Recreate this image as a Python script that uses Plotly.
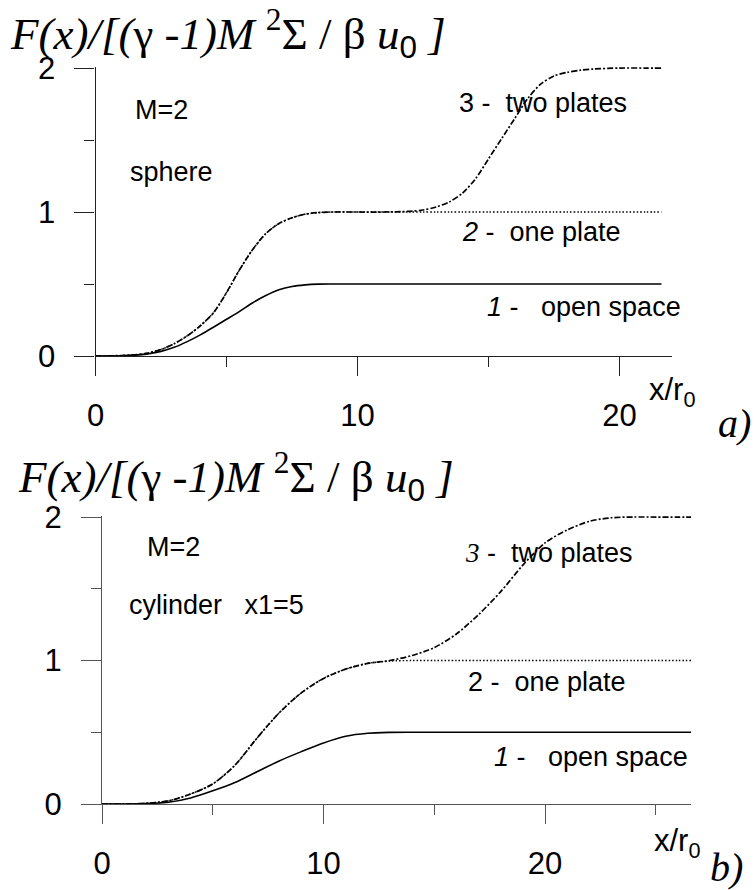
import plotly.graph_objects as go

W, H = 756, 890
SANS = "Liberation Sans, Arial, sans-serif"
SERIF = "Liberation Serif, Times New Roman, serif"

# ---------------- data: sphere (panel a) ----------------
x_sph = [0, 1, 1.5, 2, 2.5, 3, 3.5, 4, 4.5, 5, 5.5, 6, 6.5, 7, 7.5, 8, 8.5, 9, 10, 11,
         12, 12.5, 13, 13.5, 14, 14.5, 15, 15.5, 16, 16.5, 17, 17.5, 18, 18.5, 19, 20, 21, 21.6]
sph_open = [0, 0.002, 0.006, 0.015, 0.032, 0.06, 0.10, 0.147, 0.20, 0.255, 0.31, 0.37, 0.42, 0.46,
            0.483, 0.494, 0.499, 0.5, 0.5, 0.5,
            0.5, 0.5, 0.5, 0.5, 0.5, 0.5, 0.5, 0.5, 0.5, 0.5, 0.5, 0.5, 0.5, 0.5, 0.5, 0.5, 0.5, 0.5]
sph_one = [0, 0.003, 0.008, 0.02, 0.045, 0.085, 0.14, 0.21, 0.30, 0.44, 0.60, 0.74, 0.85, 0.92,
           0.96, 0.985, 0.996, 1.0, 1.0, 1.0,
           1.0, 1.0, 1.0, 1.0, 1.0, 1.0, 1.0, 1.0, 1.0, 1.0, 1.0, 1.0, 1.0, 1.0, 1.0, 1.0, 1.0, 1.0]
sph_two = [0, 0.003, 0.008, 0.02, 0.045, 0.085, 0.14, 0.21, 0.30, 0.44, 0.60, 0.74, 0.85, 0.92,
           0.96, 0.985, 0.996, 1.0, 1.0, 1.0,
           1.005, 1.014, 1.035, 1.07, 1.13, 1.23, 1.37, 1.51, 1.65, 1.79, 1.89, 1.945, 1.97, 1.985,
           1.993, 2.0, 2.0, 2.0]

# ---------------- data: cylinder (panel b) ----------------
x_cyl = [0, 1, 2, 3, 4, 5, 6, 7, 8, 9, 10, 11, 12, 13, 14, 15, 16, 17, 18, 19, 20, 21, 22,
         23, 24, 25, 26, 26.6]
cyl_open = [0, 0.0, 0.003, 0.012, 0.042, 0.092, 0.15, 0.225, 0.30, 0.365, 0.425, 0.472, 0.493,
            0.499, 0.5, 0.5, 0.5, 0.5, 0.5, 0.5, 0.5, 0.5, 0.5, 0.5, 0.5, 0.5, 0.5, 0.5]
cyl_one = [0, 0.0, 0.005, 0.022, 0.07, 0.14, 0.27, 0.46, 0.635, 0.775, 0.875, 0.94, 0.98,
           0.996, 1.0, 1.0, 1.0, 1.0, 1.0, 1.0, 1.0, 1.0, 1.0, 1.0, 1.0, 1.0, 1.0, 1.0]
cyl_two = [0, 0.0, 0.005, 0.022, 0.07, 0.14, 0.27, 0.46, 0.635, 0.775, 0.875, 0.94, 0.98,
           1.0, 1.035, 1.09, 1.185, 1.32, 1.48, 1.665, 1.82, 1.91, 1.97, 1.995, 2.0, 2.0, 2.0, 2.0]

x_tick_vals = [0, 10, 20]
y_tick_vals = [0, 1, 2]

# ---------------- layout helpers (pixel -> paper) ----------------
def px(x):
    return x / W


def py(y):
    return 1 - y / H


# panel boxes in pixels: (left, right, top, bottom)
TOP = dict(left=95.5, right=672.0, top=66.6, bottom=356.0)
BOT = dict(left=102.0, right=691.2, top=515.6, bottom=804.0)

fig = go.Figure()

line_styles = [
    dict(color="black", width=1.6, dash="solid"),
    dict(color="black", width=1.4, dash="1.5px,2px"),
    dict(color="black", width=1.7, dash="6px,2px,2px,2px"),
]

for xs, ys, st in [(x_sph, sph_open, line_styles[0]),
                   (x_sph, sph_one, line_styles[1]),
                   (x_sph, sph_two, line_styles[2])]:
    fig.add_trace(go.Scatter(x=xs, y=ys, mode="lines", line=dict(shape="spline", smoothing=0.8, **st),
                             xaxis="x", yaxis="y", showlegend=False, hoverinfo="skip"))

for xs, ys, st in [(x_cyl, cyl_open, line_styles[0]),
                   (x_cyl, cyl_one, line_styles[1]),
                   (x_cyl, cyl_two, line_styles[2])]:
    fig.add_trace(go.Scatter(x=xs, y=ys, mode="lines", line=dict(shape="spline", smoothing=0.8, **st),
                             xaxis="x2", yaxis="y2", showlegend=False, hoverinfo="skip"))


def xaxis(box, rng, color, anchor):
    return dict(
        domain=[px(box["left"]), px(box["right"])], range=rng, anchor=anchor,
        automargin=False,
        showline=True, linecolor=color, linewidth=1.3, mirror=False,
        showgrid=False, zeroline=False,
        tickmode="array", tickvals=x_tick_vals, ticks="outside", ticklen=19,
        tickwidth=1.3, tickcolor=color,
        minor=dict(dtick=5, tick0=0, ticks="outside", ticklen=10, tickwidth=1.3, tickcolor=color),
        tickfont=dict(family=SANS, size=31, color="black"), ticklabelstandoff=13,
        fixedrange=True,
    )


def yaxis(box, color, anchor):
    return dict(
        domain=[py(box["bottom"]), py(box["top"])], range=[0, 2.01], anchor=anchor,
        automargin=False,
        showline=True, linecolor=color, linewidth=1.3, mirror=False,
        showgrid=False, zeroline=False,
        tickmode="array", tickvals=y_tick_vals, ticks="outside", ticklen=20,
        tickwidth=1.3, tickcolor=color,
        minor=dict(dtick=0.5, tick0=0, ticks="outside", ticklen=10, tickwidth=1.3, tickcolor=color),
        tickfont=dict(family=SANS, size=31, color="black"), ticklabelstandoff=13,
        fixedrange=True,
    )


fig.update_layout(
    width=W, height=H, autosize=False,
    margin=dict(l=0, r=0, t=0, b=0, pad=0, autoexpand=False),
    paper_bgcolor="white", plot_bgcolor="white",
    xaxis=xaxis(TOP, [0, 22.0], "#222", "y"),
    yaxis=yaxis(TOP, "#222", "x"),
    xaxis2=xaxis(BOT, [0, 26.6], "#555", "y2"),
    yaxis2=yaxis(BOT, "#555", "x2"),
)

TITLE = ("<i>F(x)/[(</i>γ<i> -1)M</i> <sup>2</sup>Σ / β <i>u</i>"
         "<sub><span style='font-family:Liberation Sans'>0</span></sub><i> ]</i>")


def note(text, left, cy, size=27, family=SANS):
    fig.add_annotation(text=text, x=px(left), y=py(cy), xref="paper", yref="paper",
                       xanchor="left", yanchor="middle", showarrow=False,
                       font=dict(family=family, size=size, color="black"))


# panel a
note(TITLE, 8, 33, size=45, family=SERIF)
note("M=2", 133, 110)
note("sphere", 128, 172)
note("3 -\u00a0 two plates", 457, 103)
note("<i>2</i> -\u00a0 one plate", 460, 232)
note("<i>1</i> -\u00a0\u00a0 open space", 485, 307)
note("x/r<sub>0</sub>", 647, 392, size=31)
note("<i>a)</i>", 716, 423, size=40, family=SERIF)

# panel b
note(TITLE, 16, 476, size=45, family=SERIF)
note("M=2", 145, 547)
note("cylinder\u00a0\u00a0\u00a0x1=5", 127, 605)
note("<span style='font-family:Liberation Serif'><i>3</i></span> -\u00a0 two plates", 463, 553)
note("2 -\u00a0 one plate", 466, 682)
note("<i>1</i> -\u00a0\u00a0 open space", 492, 757)
note("x/r<sub>0</sub>", 652, 843, size=31)
note("<i>b)</i>", 708, 867, size=40, family=SERIF)

fig.write_html("out.html")
